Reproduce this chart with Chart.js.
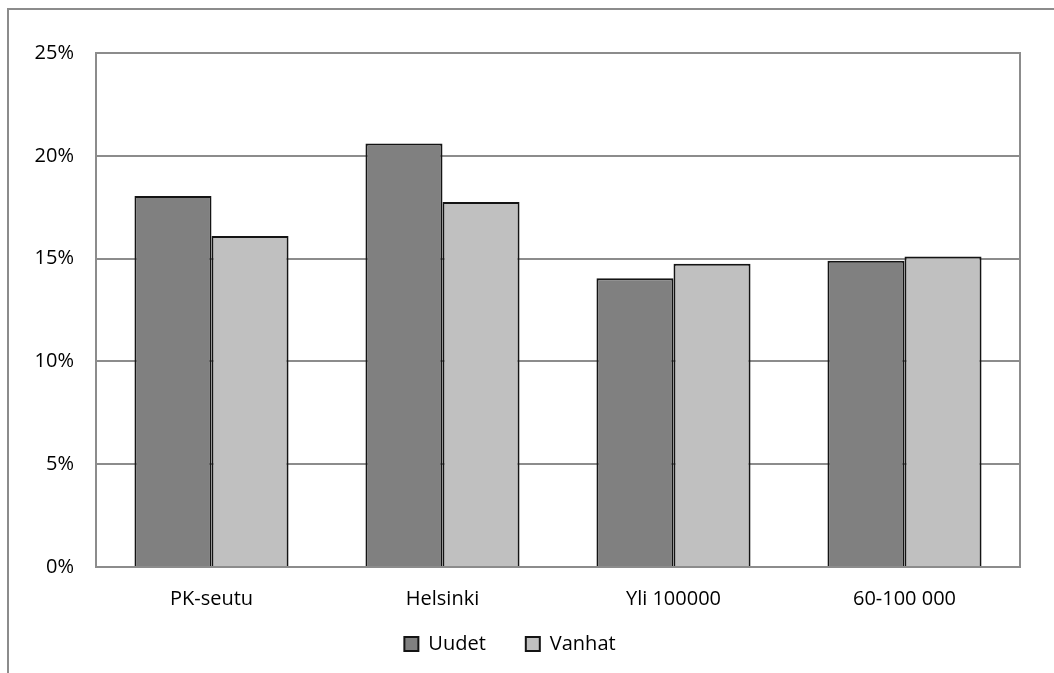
<!DOCTYPE html>
<html><head><meta charset="utf-8">
<script src="https://cdn.jsdelivr.net/npm/chart.js@4"></script>
<style>
html,body{margin:0;padding:0;background:#fff;}
#wrap{position:relative;width:1054px;height:673px;overflow:hidden;}
#frame{position:absolute;left:7px;top:8px;width:1100px;height:700px;border-left:2px solid #8c8c8c;border-top:2px solid #8c8c8c;}
canvas{position:absolute;left:0;top:0;}
</style></head>
<body>
<div id="wrap"><div id="frame"></div><canvas id="c" width="1054" height="673"></canvas></div>
<script>
const categories = ["PK-seutu", "Helsinki", "Yli 100000", "60-100 000"];
const uudet = [18.05, 20.6, 14.05, 14.9];
const vanhat = [16.1, 17.75, 14.75, 15.1];
const seriesNames = ["Uudet", "Vanhat"];
const yTicks = [0, 5, 10, 15, 20, 25];

const FONT = "'Open Sans', 'Noto Sans', sans-serif";
const frameBox = {
  id: 'frameBox',
  afterLayout(chart) {
    const lg = chart.legend;
    if (lg) { const h = lg.bottom - lg.top; lg.top = 594; lg.bottom = 594 + h; }
  },
  afterDraw(chart) {
    const a = chart.chartArea, ctx = chart.ctx;
    ctx.save();
    ctx.strokeStyle = '#8c8c8c';
    ctx.lineWidth = 2;
    ctx.beginPath();
    ctx.moveTo(a.left, a.top); ctx.lineTo(a.right, a.top); ctx.lineTo(a.right, a.bottom);
    ctx.stroke();
    ctx.restore();
  }
};
new Chart(document.getElementById('c'), {
  type: 'bar',
  data: {
    labels: categories,
    datasets: [
      {label: seriesNames[0], data: uudet, backgroundColor: '#808080', borderColor: '#141414', borderWidth: 2},
      {label: seriesNames[1], data: vanhat, backgroundColor: '#c0c0c0', borderColor: '#141414', borderWidth: 2}
    ]
  },
  options: {
    responsive: false,
    animation: false,
    events: [],
    layout: {padding: {top: 53, right: 34, left: 0, bottom: 0}},
    datasets: {bar: {categoryPercentage: 0.667, barPercentage: 1.0}},
    plugins: {
      legend: {
        position: 'bottom',
        maxHeight: 61,
        labels: {boxWidth: 14, boxHeight: 14, padding: 40, color: '#000', font: {family: FONT, size: 20}}
      },
      tooltip: {enabled: false}
    },
    scales: {
      x: {
        grid: {display: false},
        border: {color: '#8c8c8c', width: 2},
        ticks: {color: '#000', font: {family: FONT, size: 20}, padding: 12, autoSkip: false, maxRotation: 0, minRotation: 0},
        afterFit(s) { s.height = 45; }
      },
      y: {
        min: 0, max: 25,
        afterBuildTicks(s) { s.ticks = yTicks.map(v => ({value: v})); },
        grid: {color: '#8c8c8c', lineWidth: 2, drawTicks: false},
        border: {color: '#8c8c8c', width: 2},
        ticks: {color: '#000', font: {family: FONT, size: 20}, padding: 22, callback: v => v + '%'},
        afterFit(s) { s.width = 96; }
      }
    }
  },
  plugins: [frameBox]
});
</script>
</body></html>
